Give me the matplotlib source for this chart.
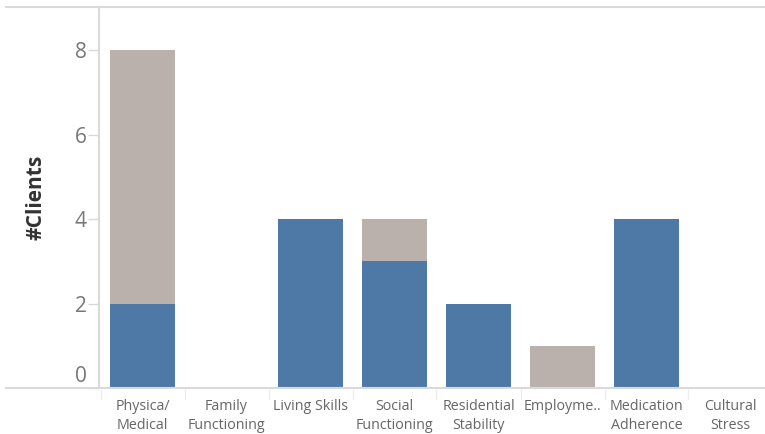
import matplotlib
matplotlib.use("Agg")
import matplotlib.pyplot as plt
from matplotlib.lines import Line2D
from matplotlib.transforms import ScaledTranslation

categories = ["Physica/\nMedical", "Family\nFunctioning", "Living Skills",
              "Social\nFunctioning", "Residential\nStability", "Employme..",
              "Medication\nAdherence", "Cultural\nStress"]
blue_vals = [2, 0, 4, 3, 2, 0, 4, 0]
gray_vals = [6, 0, 0, 1, 0, 1, 0, 0]
y_ticks = [0, 2, 4, 6, 8]

BLUE = "#4e79a7"
GRAY = "#bab0ac"
RULE = "#d9d9d9"
TEXT = "#666666"

plt.rcParams["font.family"] = ["Open Sans", "DejaVu Sans"]

W, H = 765, 434
fig = plt.figure(figsize=(W / 100, H / 100), dpi=100)
left, right, bottom, top = 99 / W, 1.0, (H - 388) / H, (H - 7) / H
ax = fig.add_axes([left, bottom, right - left, top - bottom])

x = list(range(len(categories)))
ax.bar(x, blue_vals, width=0.775, color=BLUE, zorder=2)
ax.bar(x, gray_vals, width=0.775, bottom=blue_vals, color=GRAY, zorder=2)

# the view is a little narrower than the full set of columns, so the last one is cut
step_px, first_px = 84.0, 142.5
ax.set_xlim((99 - first_px) / step_px, (765 - first_px) / step_px)
ax.set_ylim(0, 9.02)
for s in ["top", "right", "bottom"]:
    ax.spines[s].set_visible(False)
ax.spines["left"].set_color(RULE)
ax.spines["left"].set_linewidth(1.5)

ax.set_yticks(y_ticks)
ax.tick_params(axis="y", colors=RULE, length=8, width=1, labelsize=15,
               labelcolor="#777777", pad=1)
# lift the zero label above the baseline
zero_lab = ax.get_yticklabels()[0]
zero_lab.set_transform(zero_lab.get_transform() +
                       ScaledTranslation(0, 14 / 100, fig.dpi_scale_trans))
ax.set_xticks([])

# category labels and separators under the baseline
for i, lab in enumerate(categories):
    ax.text(i, -0.27, lab, ha="center", va="top", fontsize=10.3, color=TEXT,
            linespacing=1.3, clip_on=False)
for b in range(len(categories)):
    ax.plot([b - 0.5, b - 0.5], [-0.05, -0.25], color="#ececec", lw=1,
            clip_on=False)

ax.set_ylabel("#Clients", fontsize=15, fontweight="bold", color="#333333",
              labelpad=20)

# horizontal rules across the full width
for yy in [top, bottom]:
    fig.add_artist(Line2D([6 / W, 1.0], [yy, yy], color=RULE, lw=1.5,
                          transform=fig.transFigure))

fig.savefig("out.png", dpi=100)
